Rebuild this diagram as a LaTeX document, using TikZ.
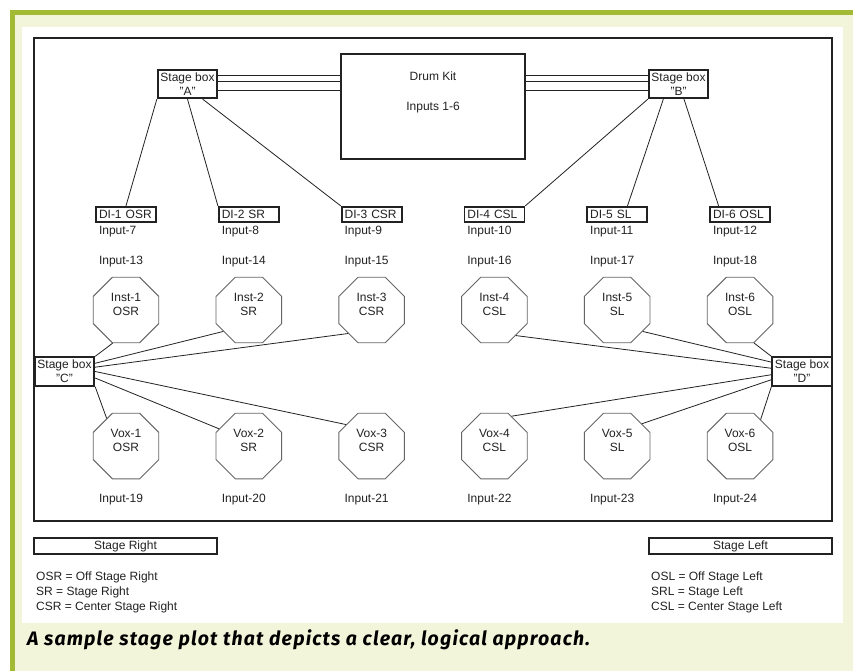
\documentclass[tikz,border=0pt]{standalone}
\usepackage{fontspec}
\setmainfont{Liberation Sans}
\newfontfamily\capfont[LetterSpace=6]{Fira Sans}
\usepackage{tikz}
\usetikzlibrary{positioning, shapes.geometric}
\definecolor{barGreen}{RGB}{163,186,52}
\definecolor{paleGreen}{RGB}{242,245,218}
\definecolor{ink}{RGB}{34,34,34}
\tikzstyle{wire} = [draw=ink, line width=0.8pt]
\tikzstyle{sbox} = [draw=ink, line width=1.8pt, fill=white, align=center, minimum width=59.5pt, minimum height=28.5pt, inner sep=1pt]
\tikzstyle{dibox} = [draw=ink, line width=1.8pt, text width=54pt, align=left, inner xsep=3pt, inner ysep=0pt, minimum height=15.5pt]
\tikzstyle{inp} = [text width=54pt, align=left, inner sep=3pt]
\tikzstyle{octa} = [regular polygon, regular polygon sides=8, minimum size=71pt, inner sep=0pt, draw=black!60, line width=0.9pt]
\tikzstyle{octatxt} = [align=center, yshift=6pt]
\tikzstyle{legbox} = [draw=ink, line width=1.8pt, minimum width=183pt, minimum height=16pt, inner sep=0pt]
\tikzstyle{legtxt} = [align=left, inner sep=0pt, font=\fontsize{12}{15}\selectfont]

\begin{document}
\begin{tikzpicture}[x=1pt, y=-1pt, node distance=30pt, on grid, font=\fontsize{12}{14}\selectfont, text=ink]
    \useasboundingbox (0,0) rectangle (853,671);
    % page frame
    \fill[white] (0,0) rectangle (853,671);
    \fill[paleGreen] (10,10) rectangle (853,671);
    \fill[barGreen] (10,10) rectangle (853,15);
    \fill[barGreen] (10,10) rectangle (15,671);
    \fill[white] (22,27) rectangle (843,623);
    \draw[draw=ink, line width=1.8pt] (34,38) rectangle (832,521);
    % drum kit and stage boxes
    \node[draw=ink, line width=1.8pt, minimum width=184pt, minimum height=105pt, label={[align=center, yshift=14.5pt]center:Drum Kit\\[16pt]Inputs 1-6}](drum) at (433,106.5) {};
    \node[sbox](sb_A) at (187.5,84) {Stage box\\"A"};
    \node[sbox](sb_B) at (678.5,84) {Stage box\\"B"};
    \node[sbox](sb_C) at (64.5,371.5) {Stage box\\"C"};
    \node[sbox](sb_D) at (802,371.5) {Stage box\\"D"};
    % DI row
    \node[dibox](di_1) at (126,214.5) {DI-1 OSR};
    \node[dibox][right=122.8pt of di_1](di_2) {DI-2 SR};
    \node[dibox][right=122.8pt of di_2](di_3) {DI-3 CSR};
    \node[dibox][right=122.8pt of di_3](di_4) {DI-4 CSL};
    \node[dibox][right=122.8pt of di_4](di_5) {DI-5 SL};
    \node[dibox][right=122.8pt of di_5](di_6) {DI-6 OSL};
    \node[inp][below=17pt of di_1](in_7) {Input-7};
    \node[inp][below=17pt of di_2](in_8) {Input-8};
    \node[inp][below=17pt of di_3](in_9) {Input-9};
    \node[inp][below=17pt of di_4](in_10) {Input-10};
    \node[inp][below=17pt of di_5](in_11) {Input-11};
    \node[inp][below=17pt of di_6](in_12) {Input-12};
    \node[inp][below=of in_7](in_13) {Input-13};
    \node[inp][below=of in_8](in_14) {Input-14};
    \node[inp][below=of in_9](in_15) {Input-15};
    \node[inp][below=of in_10](in_16) {Input-16};
    \node[inp][below=of in_11](in_17) {Input-17};
    \node[inp][below=of in_12](in_18) {Input-18};
    % instruments
    \node[octa, label={[octatxt]center:Inst-1\\OSR}][below=48.5pt of in_13](inst_1) {};
    \node[octa, label={[octatxt]center:Inst-2\\SR}][below=48.5pt of in_14](inst_2) {};
    \node[octa, label={[octatxt]center:Inst-3\\CSR}][below=48.5pt of in_15](inst_3) {};
    \node[octa, label={[octatxt]center:Inst-4\\CSL}][below=48.5pt of in_16](inst_4) {};
    \node[octa, label={[octatxt]center:Inst-5\\SL}][below=48.5pt of in_17](inst_5) {};
    \node[octa, label={[octatxt]center:Inst-6\\OSL}][below=48.5pt of in_18](inst_6) {};
    % vocals
    \node[octa, label={[octatxt]center:Vox-1\\OSR}][below=136pt of inst_1](vox_1) {};
    \node[octa, label={[octatxt]center:Vox-2\\SR}][below=136pt of inst_2](vox_2) {};
    \node[octa, label={[octatxt]center:Vox-3\\CSR}][below=136pt of inst_3](vox_3) {};
    \node[octa, label={[octatxt]center:Vox-4\\CSL}][below=136pt of inst_4](vox_4) {};
    \node[octa, label={[octatxt]center:Vox-5\\SL}][below=136pt of inst_5](vox_5) {};
    \node[octa, label={[octatxt]center:Vox-6\\OSL}][below=136pt of inst_6](vox_6) {};
    \node[inp][below=54pt of vox_1](in_19) {Input-19};
    \node[inp][below=54pt of vox_2](in_20) {Input-20};
    \node[inp][below=54pt of vox_3](in_21) {Input-21};
    \node[inp][below=54pt of vox_4](in_22) {Input-22};
    \node[inp][below=54pt of vox_5](in_23) {Input-23};
    \node[inp][below=54pt of vox_6](in_24) {Input-24};
    % snakes to the drum kit
    \path[wire, line width=0.7pt]
    (sb_A.15) edge (sb_A.15 -| drum.west)
    (sb_A.5) edge (sb_A.5 -| drum.west)
    (sb_A.-11) edge (sb_A.-11 -| drum.west)
    (sb_B.165) edge (sb_B.165 -| drum.east)
    (sb_B.175) edge (sb_B.175 -| drum.east)
    (sb_B.191) edge (sb_B.191 -| drum.east);
    % lines
    \path[wire]
    (sb_A.south west) edge (di_1.north)
    (sb_A.south) edge (di_2.north west)
    (sb_A.-45) edge (di_3.north west)
    (sb_B.south west) edge (di_4.north east)
    (sb_B.-135) edge (di_5.40)
    (sb_B.-70) edge (di_6.158)
    (sb_C.north east) edge (inst_1.-112.5)
    (sb_C.15) edge (inst_2.-140)
    (sb_C.8) edge (inst_3.-135)
    (sb_C.east) edge (vox_3.140)
    (sb_C.-12) edge (vox_2.150)
    (sb_C.south east) edge (vox_1.125)
    (sb_D.north west) edge (inst_6.-67.5)
    (sb_D.163) edge (inst_5.-40)
    (sb_D.174) edge (inst_4.-50)
    (sb_D.186) edge (vox_4.60)
    (sb_D.195) edge (vox_5.42)
    (sb_D.south west) edge (vox_6.52);
    % key
    \node[legbox](key_R) at (125.5,546) {Stage Right};
    \node[legbox](key_L) at (740.5,546) {Stage Left};
    \node[legtxt, anchor=north west](abbr_R) at (36,572) {OSR = Off Stage Right\\SR = Stage Right\\CSR = Center Stage Right};
    \node[legtxt, anchor=north west](abbr_L) at (651,572) {OSL = Off Stage Left\\SRL = Stage Left\\CSL = Center Stage Left};
    \node[anchor=base west, inner sep=0pt, text=black, font=\capfont\bfseries\itshape\fontsize{19.5}{23}\selectfont](caption) at (27,645) {A sample stage plot that depicts a clear, logical approach.};
\end{tikzpicture}
\end{document}
